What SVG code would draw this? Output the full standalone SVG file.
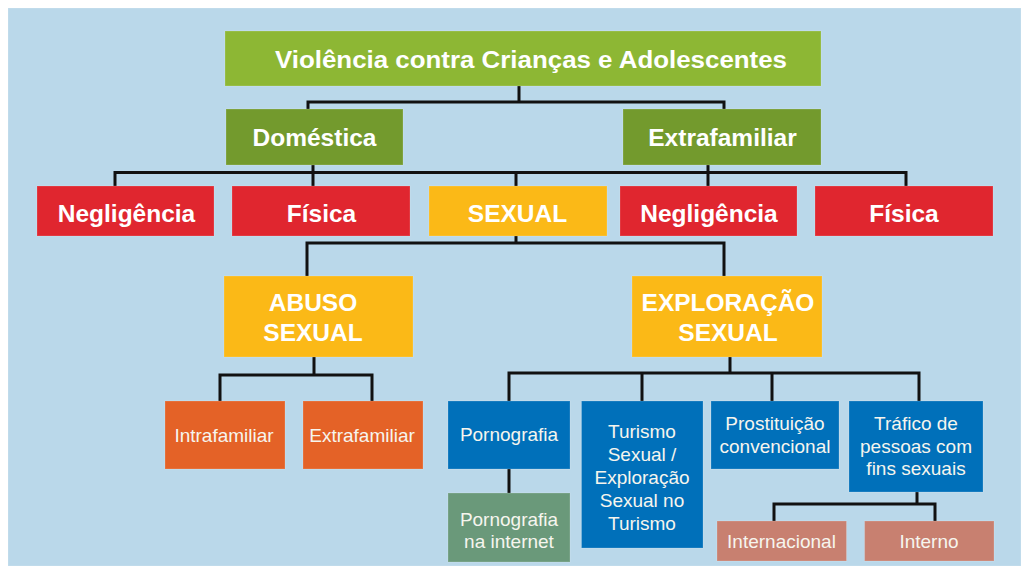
<svg xmlns="http://www.w3.org/2000/svg" width="1021" height="566" viewBox="0 0 1021 566">
<style>
.b{font-family:"Liberation Sans",Arial,sans-serif;font-weight:bold;fill:#ffffff;text-anchor:middle;font-size:24.5px}
.s{font-family:"Liberation Sans",Arial,sans-serif;fill:#f6f5ee;text-anchor:middle;font-size:19px}
.c{fill:none;stroke:#111111;stroke-width:3;stroke-linecap:square}
rect{stroke:#ffffff;stroke-opacity:0.18;stroke-width:1}
</style>
<rect x="0" y="0" width="1021" height="566" fill="#ffffff" stroke="none"/>
<rect x="8" y="8" width="1013" height="558" fill="#bad8ea" stroke="none"/>
<g id="connectors" class="c">
<path d="M519 86V102M308 109V102H724V109"/>
<path d="M313 165V186M115 186V172.5H906V186M516 172.5V186M708 165V186"/>
<path d="M516 236V243M307 276V243H724V276"/>
<path d="M314 357V375M220 401V375H372V401"/>
<path d="M730 357V373M509 401V373H919V401M642 373V401M772 373V401"/>
<path d="M509 469V493"/>
<path d="M917 492V504M774 521V504H935V521"/>
</g>
<g id="n-root"><rect x="225" y="31" width="596" height="55" fill="#8db734"/><text class="b" x="531" y="68" textLength="512" lengthAdjust="spacingAndGlyphs" style="font-size:23.5px">Violência contra Crianças e Adolescentes</text></g>
<g id="n-domestica"><rect x="226" y="109" width="177" height="56" fill="#739a2d"/><text class="b" x="314.5" y="146">Doméstica</text></g>
<g id="n-extrafamiliar"><rect x="623" y="109" width="198" height="56" fill="#739a2d"/><text class="b" x="722.5" y="146">Extrafamiliar</text></g>
<g id="n-negligencia1"><rect x="37" y="186" width="177" height="50" fill="#e0262f"/><text class="b" x="126.5" y="222">Negligência</text></g>
<g id="n-fisica1"><rect x="232" y="186" width="178" height="50" fill="#e0262f"/><text class="b" x="321.5" y="222">Física</text></g>
<g id="n-sexual"><rect x="429" y="186" width="178" height="50" fill="#fbb917"/><text class="b" x="517.5" y="222">SEXUAL</text></g>
<g id="n-negligencia2"><rect x="620" y="186" width="177" height="50" fill="#e0262f"/><text class="b" x="709" y="222">Negligência</text></g>
<g id="n-fisica2"><rect x="815" y="186" width="178" height="50" fill="#e0262f"/><text class="b" x="904" y="222">Física</text></g>
<g id="n-abuso"><rect x="224" y="276" width="189" height="81" fill="#fbb917"/><text class="b" x="313" y="311">ABUSO</text><text class="b" x="313" y="341">SEXUAL</text></g>
<g id="n-exploracao"><rect x="632" y="276" width="190" height="81" fill="#fbb917"/><text class="b" x="728" y="311">EXPLORAÇÃO</text><text class="b" x="728" y="341">SEXUAL</text></g>
<g id="n-intrafamiliar"><rect x="165" y="401" width="120" height="68" fill="#e46227"/><text class="s" x="224" y="442">Intrafamiliar</text></g>
<g id="n-extrafamiliar2"><rect x="303" y="401" width="120" height="68" fill="#e46227"/><text class="s" x="362" y="442">Extrafamiliar</text></g>
<g id="n-pornografia"><rect x="448" y="401" width="122" height="68" fill="#0070ba"/><text class="s" x="509" y="441">Pornografia</text></g>
<g id="n-porninternet"><rect x="448" y="493" width="122" height="69" fill="#6a997a"/><text class="s" x="509" y="526">Pornografia</text><text class="s" x="509" y="548">na internet</text></g>
<g id="n-turismo"><rect x="581.5" y="401" width="121.5" height="147" fill="#0070ba"/><text class="s" x="642" y="438">Turismo</text><text class="s" x="642" y="461">Sexual /</text><text class="s" x="642" y="484">Exploração</text><text class="s" x="642" y="507">Sexual no</text><text class="s" x="642" y="530">Turismo</text></g>
<g id="n-prostituicao"><rect x="711" y="401" width="128" height="68" fill="#0070ba"/><text class="s" x="775" y="430">Prostituição</text><text class="s" x="775" y="453">convencional</text></g>
<g id="n-trafico"><rect x="849" y="401" width="134" height="91" fill="#0070ba"/><text class="s" x="916" y="430">Tráfico de</text><text class="s" x="916" y="452.5">pessoas com</text><text class="s" x="916" y="475">fins sexuais</text></g>
<g id="n-internacional"><rect x="717" y="521" width="129.5" height="40" fill="#c88070"/><text class="s" x="781.5" y="548">Internacional</text></g>
<g id="n-interno"><rect x="864.6" y="521" width="129.4" height="40" fill="#c88070"/><text class="s" x="929" y="548">Interno</text></g>
</svg>
